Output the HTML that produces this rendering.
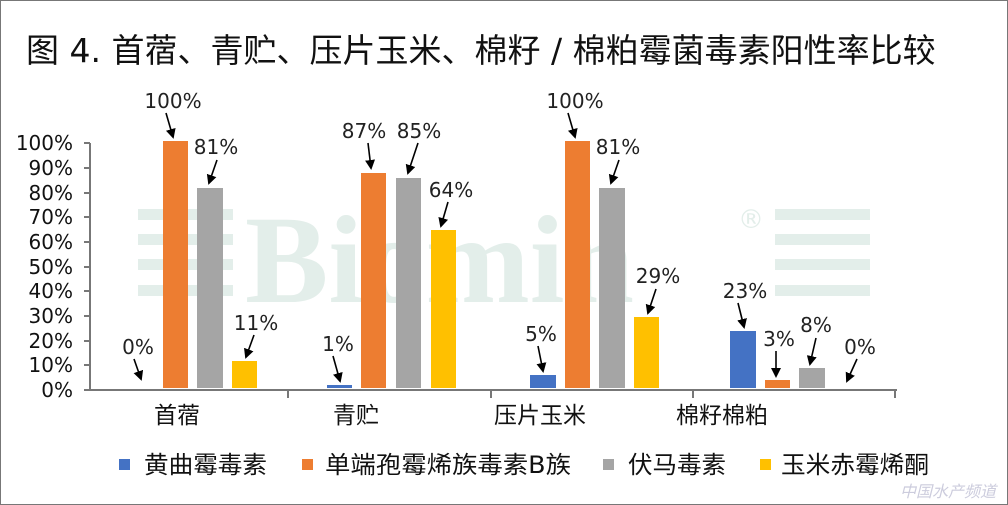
<!DOCTYPE html>
<html><head><meta charset="utf-8"><style>
body{margin:0;background:#fff}
svg{display:block;font-family:"DejaVu Sans","Liberation Sans","Noto Sans CJK SC",sans-serif}
.cj{font-family:"DejaVu Sans","Noto Sans CJK SC",sans-serif}
</style></head><body>
<svg width="1008" height="505" viewBox="0 0 1008 505">
<defs><marker id="a" markerWidth="10" markerHeight="10" refX="8" refY="5" orient="auto" markerUnits="userSpaceOnUse"><path d="M0,0 L10,5 L0,10 z" fill="#000"/></marker></defs>
<rect x="0.5" y="0.5" width="1007" height="504" fill="#fff" stroke="#777"/>
<text x="26" y="62" font-size="33" class="cj" fill="#111">图 4. 首蓿、青贮、压片玉米、棉籽 / 棉粕霉菌毒素阳性率比较</text>
<!-- watermark -->
<g fill="#e3eeea">
<rect x="138" y="209" width="95" height="11"/><rect x="138" y="234" width="95" height="11"/><rect x="138" y="259" width="95" height="11"/><rect x="138" y="285" width="95" height="11"/>
<rect x="775" y="209" width="95" height="11"/><rect x="775" y="234" width="95" height="11"/><rect x="775" y="259" width="95" height="11"/><rect x="775" y="285" width="95" height="11"/>
<text x="245" y="302" font-size="125" font-weight="bold" font-family="Liberation Serif,serif">Biomin</text>
<text x="738" y="228" font-size="26">®</text>
</g>
<!-- y labels -->
<g font-size="20" text-anchor="end" fill="#111">
<text x="73" y="150">100%</text><text x="73" y="175">90%</text><text x="73" y="200">80%</text><text x="73" y="224">70%</text><text x="73" y="249">60%</text><text x="73" y="274">50%</text><text x="73" y="298">40%</text><text x="73" y="323">30%</text><text x="73" y="348">20%</text><text x="73" y="372">10%</text><text x="73" y="397">0%</text>
</g>
<g stroke="#777" stroke-width="2">
<line x1="90" y1="143" x2="90" y2="391"/>
<line x1="84" y1="143" x2="90" y2="143"/><line x1="84" y1="168" x2="90" y2="168"/><line x1="84" y1="193" x2="90" y2="193"/><line x1="84" y1="217" x2="90" y2="217"/><line x1="84" y1="242" x2="90" y2="242"/><line x1="84" y1="267" x2="90" y2="267"/><line x1="84" y1="291" x2="90" y2="291"/><line x1="84" y1="316" x2="90" y2="316"/><line x1="84" y1="341" x2="90" y2="341"/><line x1="84" y1="365" x2="90" y2="365"/>
<line x1="84" y1="390" x2="897" y2="390"/>
<line x1="288" y1="390" x2="288" y2="398"/><line x1="491" y1="390" x2="491" y2="398"/><line x1="693" y1="390" x2="693" y2="398"/><line x1="895" y1="390" x2="895" y2="398"/>
</g>
<!-- bars -->
<g>
<rect x="163" y="141" width="25" height="247" fill="#ed7d31"/>
<rect x="197" y="188" width="26" height="200" fill="#a5a5a5"/>
<rect x="232" y="361" width="25" height="27" fill="#ffc000"/>
<rect x="327" y="385" width="25" height="3" fill="#4472c4"/>
<rect x="361" y="173" width="25" height="215" fill="#ed7d31"/>
<rect x="396" y="178" width="25" height="210" fill="#a5a5a5"/>
<rect x="431" y="230" width="25" height="158" fill="#ffc000"/>
<rect x="530" y="375" width="26" height="13" fill="#4472c4"/>
<rect x="565" y="141" width="25" height="247" fill="#ed7d31"/>
<rect x="599" y="188" width="26" height="200" fill="#a5a5a5"/>
<rect x="634" y="317" width="25" height="71" fill="#ffc000"/>
<rect x="730" y="331" width="26" height="57" fill="#4472c4"/>
<rect x="765" y="380" width="25" height="8" fill="#ed7d31"/>
<rect x="799" y="368" width="26" height="20" fill="#a5a5a5"/>
</g>
<!-- labels + arrows -->
<g font-size="20" fill="#222" text-anchor="middle">
<text x="138" y="354">0%</text><text x="173" y="108">100%</text><text x="216" y="154">81%</text><text x="256" y="330">11%</text>
<text x="338" y="351">1%</text><text x="364" y="138">87%</text><text x="419" y="138">85%</text><text x="451" y="197">64%</text>
<text x="541" y="341">5%</text><text x="575" y="108">100%</text><text x="618" y="154">81%</text><text x="658" y="283">29%</text>
<text x="745" y="298">23%</text><text x="779" y="346">3%</text><text x="816" y="332">8%</text><text x="860" y="354">0%</text>
</g>
<g stroke="#000" stroke-width="1.6" marker-end="url(#a)">
<line x1="134" y1="359" x2="141" y2="379"/>
<line x1="166" y1="113" x2="173" y2="137"/>
<line x1="217" y1="160" x2="209" y2="183"/>
<line x1="254" y1="335" x2="246" y2="357"/>
<line x1="333" y1="356" x2="340" y2="381"/>
<line x1="368" y1="143" x2="371" y2="168"/>
<line x1="418" y1="143" x2="408" y2="173"/>
<line x1="448" y1="202" x2="441" y2="226"/>
<line x1="538" y1="346" x2="543" y2="371"/>
<line x1="568" y1="113" x2="575" y2="137"/>
<line x1="619" y1="160" x2="611" y2="183"/>
<line x1="656" y1="289" x2="648" y2="313"/>
<line x1="738" y1="303" x2="744" y2="327"/>
<line x1="776" y1="351" x2="776" y2="376"/>
<line x1="816" y1="338" x2="810" y2="364"/>
<line x1="857" y1="359" x2="847" y2="381"/>
</g>
<!-- categories -->
<g font-size="23" class="cj" fill="#111">
<text x="154" y="423">首蓿</text><text x="333" y="423">青贮</text><text x="494" y="423">压片玉米</text><text x="676" y="423">棉籽棉粕</text>
</g>
<!-- legend -->
<g font-size="24" class="cj" fill="#111">
<rect x="119" y="459" width="11" height="11" fill="#4472c4"/><text x="144" y="473" textLength="123" lengthAdjust="spacingAndGlyphs">黄曲霉毒素</text>
<rect x="302" y="459" width="11" height="11" fill="#ed7d31"/><text x="325" y="473" textLength="246" lengthAdjust="spacingAndGlyphs">单端孢霉烯族毒素B族</text>
<rect x="603" y="459" width="11" height="11" fill="#a5a5a5"/><text x="628" y="473" textLength="98" lengthAdjust="spacingAndGlyphs">伏马毒素</text>
<rect x="760" y="459" width="11" height="11" fill="#ffc000"/><text x="781" y="473" textLength="148" lengthAdjust="spacingAndGlyphs">玉米赤霉烯酮</text>
</g>
<text x="900" y="497" font-size="16" class="cj" fill="#ccd" font-style="italic">中国水产频道</text>
</svg>
</body></html>
